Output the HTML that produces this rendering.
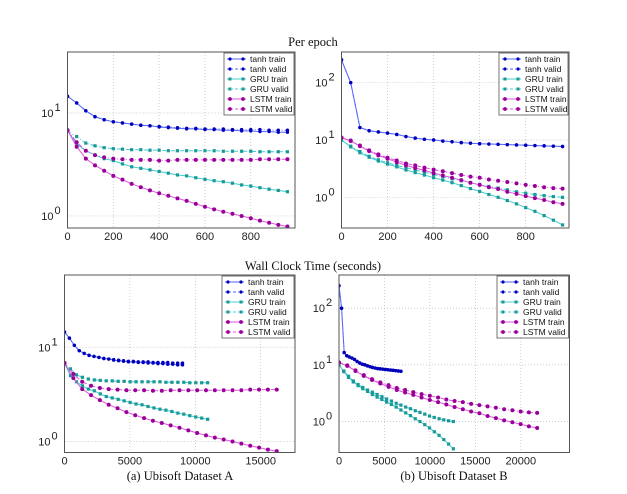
<!DOCTYPE html>
<html><head><meta charset="utf-8"><style>
body{margin:0;background:#fff;}
svg{display:block;}
.t{font-family:"Liberation Sans",sans-serif;font-size:11px;fill:#222;}
.l{font-family:"Liberation Sans",sans-serif;font-size:8.5px;fill:#111;}
.s{font-family:"Liberation Serif",serif;font-size:12.5px;fill:#111;}
</style></head><body>
<svg id="c" width="627" height="494" viewBox="0 0 627 494" xmlns="http://www.w3.org/2000/svg">
<text class="s" x="313" y="46" text-anchor="middle">Per epoch</text>
<text class="s" x="313" y="270" text-anchor="middle">Wall Clock Time (seconds)</text>
<text class="s" x="180" y="480" text-anchor="middle">(a) Ubisoft Dataset A</text>
<text class="s" x="454" y="480" text-anchor="middle">(b) Ubisoft Dataset B</text>
</svg>
<script>
const epochs=[0,40,80,120,160,200,240,280,320,360,400,440,480,520,560,600,640,680,720,760,800,840,880,920,960];
const aTanhTrain=[14.5,12.5,10.5,9.2,8.6,8.2,8.0,7.8,7.6,7.5,7.3,7.2,7.1,7.0,7.0,6.9,6.9,6.8,6.8,6.7,6.7,6.6,6.6,6.5,6.5];
const aTanhValid=[14.5,12.5,10.5,9.2,8.6,8.2,8.0,7.8,7.6,7.5,7.4,7.3,7.2,7.1,7.1,7.0,7.0,7.0,6.9,6.9,6.9,6.9,6.8,6.8,6.8];
const aGruTrain=[6.7,5.0,4.3,3.9,3.6,3.45,3.2,3.0,2.9,2.8,2.7,2.6,2.5,2.45,2.35,2.27,2.2,2.15,2.08,2.0,1.95,1.88,1.82,1.77,1.72];
const aGruValid=[6.7,5.9,5.1,4.8,4.6,4.5,4.45,4.4,4.4,4.35,4.35,4.3,4.3,4.3,4.3,4.3,4.3,4.25,4.25,4.25,4.25,4.2,4.2,4.2,4.2];
const aLstmTrain=[6.8,4.7,3.6,3.1,2.75,2.45,2.25,2.05,1.9,1.77,1.66,1.57,1.48,1.4,1.31,1.23,1.16,1.1,1.05,1.0,0.95,0.9,0.86,0.82,0.79];
const aLstmValid=[6.8,5.2,4.3,3.9,3.7,3.6,3.55,3.5,3.5,3.5,3.45,3.45,3.5,3.5,3.5,3.5,3.5,3.5,3.5,3.5,3.5,3.55,3.55,3.55,3.55];
const bTanhTrain=[250,100,16.5,14.5,13.8,13.2,12.5,11.5,10.8,10.3,10.0,9.6,9.3,9.0,8.8,8.6,8.5,8.4,8.3,8.2,8.1,8.0,7.9,7.8,7.7];
const bTanhValid=[250,100,16.5,14.5,13.8,13.2,12.5,11.5,10.8,10.3,10.0,9.6,9.3,9.0,8.8,8.6,8.5,8.4,8.3,8.2,8.1,8.0,7.9,7.8,7.7];
const bGruTrain=[10,7.6,6.0,5.0,4.3,3.8,3.4,3.0,2.7,2.45,2.2,2.0,1.8,1.6,1.42,1.27,1.12,1.0,0.88,0.77,0.66,0.57,0.48,0.40,0.33];
const bGruValid=[10,7.8,6.3,5.2,4.5,4.0,3.6,3.3,3.0,2.75,2.5,2.3,2.1,1.95,1.8,1.68,1.55,1.45,1.35,1.25,1.18,1.12,1.07,1.03,1.0];
const bLstmTrain=[11,9.6,7.8,6.4,5.4,4.7,4.1,3.6,3.25,2.95,2.65,2.4,2.2,2.0,1.8,1.65,1.5,1.4,1.25,1.15,1.05,0.97,0.9,0.82,0.77];
const bLstmValid=[11,9.8,8.0,6.6,5.6,4.9,4.4,3.9,3.6,3.3,3.05,2.85,2.65,2.45,2.3,2.2,2.05,1.95,1.85,1.75,1.65,1.58,1.5,1.45,1.42];
const secPerEpochA=[9.4,11.4,16.9];
const secPerEpochB=[7.1,13.1,22.7];
const ticksEpoch=[0,200,400,600,800];
const ticksWallA=[0,5000,10000,15000];
const ticksWallB=[0,5000,10000,15000,20000];
const legendLabels=["tanh train","tanh valid","GRU train","GRU valid","LSTM train","LSTM valid"];

const NS="http://www.w3.org/2000/svg";
const svg=document.getElementById('c');
function mk(tag,attrs,parent){const e=document.createElementNS(NS,tag);for(const k in attrs)e.setAttribute(k,attrs[k]);(parent||svg).appendChild(e);return e;}
const lineCol=['#5566ff','#5566ff','#44cccc','#44cccc','#dd55dd','#dd55dd'];
const mkCol=['#0000bb','#0000bb','#1a9999','#1a9999','#990099','#990099'];

function panel(p){
  const g=mk('g',{});
  
  
  const X=v=>p.x0+(v-p.xmin)/(p.xmax-p.xmin)*(p.x1-p.x0);
  const Y=v=>p.y1-(Math.log10(v)-p.lmin)/(p.lmax-p.lmin)*(p.y1-p.y0);
  // grid
  p.xt.forEach(t=>{const gl=mk('line',{x1:X(t),x2:X(t),y1:p.y0,y2:p.y1,stroke:'#bbb','stroke-width':0.7,'stroke-dasharray':'1,2'},g);
    
    const tl=mk('text',{x:X(t),y:p.y1+12,'text-anchor':'middle',class:'t'},g);tl.textContent=t;
    });
  p.yt.forEach(e=>{const y=Y(Math.pow(10,e));
    const gl=mk('line',{x1:p.x0,x2:p.x1,y1:y,y2:y,stroke:'#bbb','stroke-width':0.7,'stroke-dasharray':'1,2'},g);
    
    const tl=mk('text',{x:p.x0-14,y:y+4,'text-anchor':'end',class:'t'},g);tl.textContent='10';
    
    const sp=mk('text',{x:p.x0-13,y:y-2,class:'t','font-size':'8'},g);sp.textContent=e;
    });
  // clip
  const cid='clip'+p.name;const cp=mk('clipPath',{id:cid},g);mk('rect',{x:p.x0,y:p.y0,width:p.x1-p.x0,height:p.y1-p.y0},cp);
  const sg=mk('g',{'clip-path':'url(#'+cid+')'},g);
  p.series.forEach((s,i)=>{
    const xs=epochs.map(e=>p.tx?e*p.tx[Math.floor(i/2)]:e);
    const pts=s.map((v,j)=>X(xs[j]).toFixed(1)+','+Y(v).toFixed(1)).join(' ');
    const pl=mk('polyline',{points:pts,fill:'none',stroke:lineCol[i],'stroke-width':1,'stroke-dasharray':i%2?'4,2,1,2':'none'},sg);
    
    
    s.forEach((v,j)=>{const cx=X(xs[j]),cy=Y(v);let m;
      if(i<2)m=mk('circle',{cx:cx,cy:cy,r:1.7,fill:mkCol[i]},sg);
      else if(i<4)m=mk('rect',{x:cx-1.6,y:cy-1.6,width:3.2,height:3.2,fill:mkCol[i]},sg);
      else m=mk('circle',{cx:cx,cy:cy,r:2,fill:mkCol[i]},sg);
      
      });
  });
  const fr=mk('rect',{x:p.x0,y:p.y0,width:p.x1-p.x0,height:p.y1-p.y0,fill:'none',stroke:'#555','stroke-width':1},g);
  
  // legend
  const lg=mk('g',{},g);
  const lx=p.lx,ly=p.ly,lw=p.x1-lx-1;
  mk('rect',{x:lx,y:ly,width:lw,height:62,fill:'#fff',stroke:'#555','stroke-width':0.8},lg);
  legendLabels.forEach((lab,i)=>{const yy=ly+6+i*10;
    const en=mk('g',{},lg);
    mk('line',{x1:lx+3,x2:lx+22,y1:yy,y2:yy,stroke:lineCol[i],'stroke-width':1,'stroke-dasharray':i%2?'3,2,1,2':'none'},en);
    [lx+6,lx+19].forEach(cx=>{ if(i>=2&&i<4)mk('rect',{x:cx-1.5,y:yy-1.5,width:3,height:3,fill:mkCol[i]},en); else mk('circle',{cx:cx,cy:yy,r:i<2?1.6:1.9,fill:mkCol[i]},en);});
    const t=mk('text',{x:lx+26,y:yy+3,class:'l'},en);t.textContent=lab;});
}
panel({name:'epoch-a',x0:67.5,x1:295,y0:52,y1:228,xmin:0,xmax:993,lmin:-0.117,lmax:1.592,xt:ticksEpoch,yt:[0,1],
  series:[aTanhTrain,aTanhValid,aGruTrain,aGruValid,aLstmTrain,aLstmValid],lx:224,ly:53});
panel({name:'epoch-b',x0:341.5,x1:569,y0:52,y1:228,xmin:0,xmax:988,lmin:-0.535,lmax:2.535,xt:ticksEpoch,yt:[0,1,2],
  series:[bTanhTrain,bTanhValid,bGruTrain,bGruValid,bLstmTrain,bLstmValid],lx:499,ly:53});
panel({name:'wall-a',x0:64.5,x1:295,y0:275,y1:452.5,xmin:0,xmax:17620,lmin:-0.117,lmax:1.767,xt:ticksWallA,yt:[0,1],tx:secPerEpochA,
  series:[aTanhTrain,aTanhValid,aGruTrain,aGruValid,aLstmTrain,aLstmValid],lx:222,ly:276});
panel({name:'wall-b',x0:339,x1:569.5,y0:275,y1:452.5,xmin:0,xmax:25350,lmin:-0.547,lmax:2.587,xt:ticksWallB,yt:[0,1,2],tx:secPerEpochB,
  series:[bTanhTrain,bTanhValid,bGruTrain,bGruValid,bLstmTrain,bLstmValid],lx:497,ly:276});
</script>
</body></html>
